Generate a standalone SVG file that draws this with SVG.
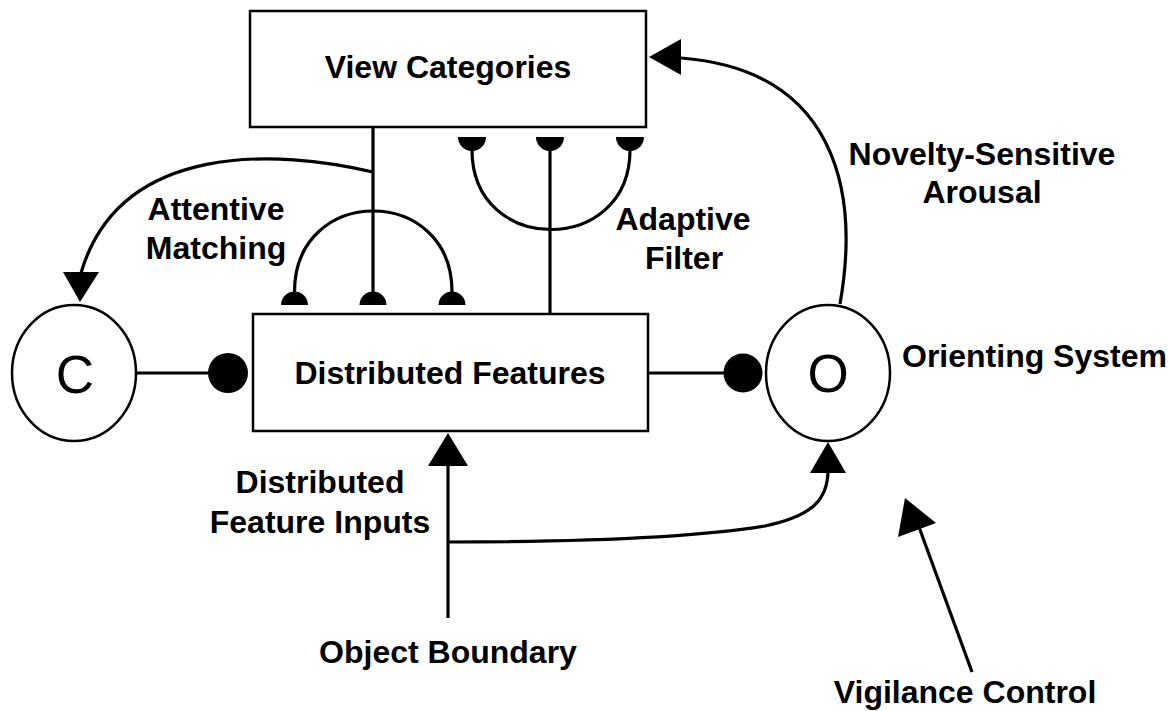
<svg xmlns="http://www.w3.org/2000/svg" width="1169" height="711" viewBox="0 0 1169 711">
<style>
.box{fill:#fff;stroke:#000;stroke-width:2.5}
.circ{fill:#fff;stroke:#000;stroke-width:2.5}
.ln{fill:none;stroke:#000;stroke-width:3.2}
.fill{fill:#000;stroke:none}
.t{font-family:"Liberation Sans",Arial,sans-serif;font-weight:bold;font-size:32px;fill:#000;text-anchor:middle}
.letter{font-family:"Liberation Sans",Arial,sans-serif;font-size:53px;fill:#000;text-anchor:middle}
</style>
<rect width="1169" height="711" fill="#fff"/>
<g id="connectors">
  <!-- view categories to attentive matching -->
  <line class="ln" x1="373" y1="127" x2="373" y2="292"/>
  <path class="ln" d="M294.5,292 C294.5,184 452,184 452,292"/>
  <path class="fill" d="M281,305 A13.5,13.5 0 0 1 308,305 Z"/>
  <path class="fill" d="M359.5,305 A13.5,13.5 0 0 1 386.5,305 Z"/>
  <path class="fill" d="M438.5,305 A13.5,13.5 0 0 1 465.5,305 Z"/>
  <!-- attentive matching to C -->
  <path class="ln" d="M373,172 C280,150 120,140 81,273"/>
  <polygon class="fill" points="80,302 63,272 99,272"/>
  <!-- adaptive filter -->
  <line class="ln" x1="550" y1="150" x2="550" y2="314"/>
  <path class="ln" d="M472,150 C472,256 630,256 630,150"/>
  <path class="fill" d="M458,137 A14,14 0 0 0 486,137 Z"/>
  <path class="fill" d="M536,137 A14,14 0 0 0 564,137 Z"/>
  <path class="fill" d="M616,137 A14,14 0 0 0 644,137 Z"/>
  <!-- C to DF -->
  <line class="ln" x1="136" y1="373" x2="215" y2="373"/>
  <circle class="fill" cx="228" cy="373" r="20"/>
  <!-- DF to O -->
  <line class="ln" x1="648" y1="373" x2="730" y2="373"/>
  <circle class="fill" cx="743" cy="373" r="19.5"/>
  <!-- novelty-sensitive arousal -->
  <path class="ln" d="M840,304 C860,190 835,70 681,58"/>
  <polygon class="fill" points="649,57 681,39 681,75"/>
  <!-- inputs -->
  <line class="ln" x1="448" y1="618" x2="448" y2="462"/>
  <polygon class="fill" points="448,433 428,466 468,466"/>
  <path class="ln" d="M448,542 C610,542 710,535 765,526 C812,516 828,500 828,470"/>
  <polygon class="fill" points="828,442 810,473 846,473"/>
  <!-- vigilance control -->
  <line class="ln" x1="972" y1="672" x2="919" y2="527"/>
  <polygon class="fill" points="905,498 898,537 936,523"/>
</g>
<g id="view-categories">
  <rect class="box" x="250" y="11" width="396" height="116"/>
  <text class="t" x="448" y="78">View Categories</text>
</g>
<g id="distributed-features">
  <rect class="box" x="253" y="314" width="395" height="117"/>
  <text class="t" x="450" y="384">Distributed Features</text>
</g>
<g id="c-node">
  <ellipse class="circ" cx="74" cy="373" rx="62" ry="68"/>
  <text class="letter" x="75" y="393">C</text>
</g>
<g id="o-node">
  <ellipse class="circ" cx="828" cy="373" rx="62" ry="68"/>
  <text class="letter" x="828" y="392">O</text>
</g>
<g id="labels">
  <text class="t" x="216" y="220">Attentive</text>
  <text class="t" x="216" y="259">Matching</text>
  <text class="t" x="683" y="230">Adaptive</text>
  <text class="t" x="684" y="269">Filter</text>
  <text class="t" x="982" y="165">Novelty-Sensitive</text>
  <text class="t" x="982" y="203">Arousal</text>
  <text class="t" x="902" y="367" style="text-anchor:start">Orienting System</text>
  <text class="t" x="320" y="493">Distributed</text>
  <text class="t" x="320" y="533">Feature Inputs</text>
  <text class="t" x="448" y="663">Object Boundary</text>
  <text class="t" x="965" y="703">Vigilance Control</text>
</g>
</svg>
